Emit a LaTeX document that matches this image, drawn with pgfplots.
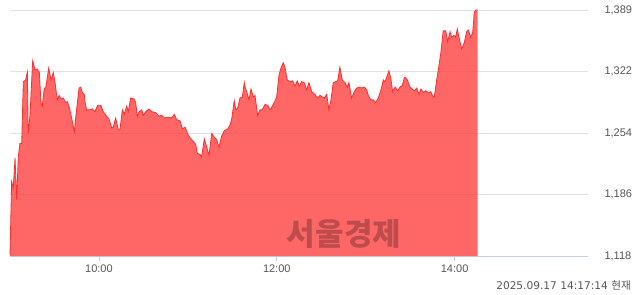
\documentclass[border=0pt]{standalone}
\usepackage{pgfplots}
\pgfplotsset{compat=1.18}
\usepackage{pgfplotstable}
\usepackage{fontspec}
\setmainfont{Liberation Sans}
\newfontfamily\kr{Noto Sans CJK KR}
\newfontfamily\dvs{DejaVu Sans}
\definecolor{areafill}{RGB}{255,60,60}
\definecolor{arealine}{RGB}{255,45,45}
\definecolor{gridc}{RGB}{226,226,226}
\definecolor{axc}{RGB}{196,208,230}
\definecolor{txt}{RGB}{85,85,85}
\pgfplotstableread{
m v
0 1119
1.1 1200
2.2 1193
3.4 1226
4.5 1180
5.6 1227
6.7 1242
7.9 1242
9.0 1310
10.6 1312
11.7 1321
12.3 1253
13.5 1273
15.3 1333
16.9 1323
18.4 1324
19.8 1320
20.9 1287
21.8 1283
23.1 1303
24.1 1303
26.1 1325
27.7 1312
29.2 1320
30.4 1309
31.9 1290
33.1 1295
34.4 1291
36.0 1292
37.6 1287
38.7 1288
40.0 1282
41.6 1270
43.4 1255
44.5 1273
46.6 1303
47.7 1304
48.8 1298
50.1 1296
50.6 1288
51.7 1279
54.0 1279
55.5 1280
57.3 1277
59.2 1284
61.2 1284
62.9 1277
65.2 1272
66.8 1269
68.6 1259
69.7 1260
71.3 1270
73.1 1257
74.2 1257
75.8 1279
77.1 1274
78.7 1283
79.8 1277
81.4 1292
83.7 1291
84.8 1287
85.9 1272
87.2 1277
88.9 1279
89.9 1273
91.6 1277
93.8 1280
95.6 1277
98.3 1276
100.5 1272
102.4 1273
104.1 1270
106.8 1271
109.1 1270
110.9 1274
112.5 1268
114.7 1267
116.3 1258
118.1 1260
120.3 1251
122.1 1247
123.7 1244
125.3 1241
126.4 1231
128.2 1230
129.3 1227
131.1 1247
132.7 1238
134.3 1229
136.1 1253
137.8 1249
139.5 1246
141.0 1238
142.8 1250
144.6 1256
146.9 1258
148.4 1262
149.6 1269
151.3 1289
152.3 1279
153.6 1281
155.2 1292
156.7 1293
158.1 1309
158.6 1304
159.7 1299
161.3 1290
162.6 1302
164.2 1293
165.3 1295
167.1 1273
168.7 1279
170.2 1279
172.1 1285
173.9 1284
175.4 1279
176.6 1282
178.3 1287
179.9 1293
181.5 1317
182.8 1325
184.4 1331
185.5 1326
187.1 1312
188.9 1310
190.7 1311
192.3 1305
193.8 1311
195.2 1305
196.8 1310
198.6 1309
200.2 1301
201.7 1309
203.6 1299
205.8 1296
207.6 1292
209.2 1295
210.7 1293
212.1 1292
212.5 1293
213.7 1296
215.2 1279
216.6 1290
218.1 1309
219.7 1310
221.1 1311
222.6 1326
224.2 1312
226.0 1309
227.6 1304
228.7 1309
230.5 1292
232.3 1299
233.9 1303
235.7 1304
237.3 1303
239.0 1304
240.7 1301
241.7 1295
243.4 1290
245.1 1290
246.7 1287
248.5 1292
250.3 1301
251.9 1312
253.0 1310
254.2 1315
255.7 1322
257.1 1312
258.2 1299
259.8 1304
261.6 1300
263.1 1304
264.7 1306
266.0 1314
266.5 1315
268.1 1312
269.9 1304
271.4 1302
272.8 1300
274.4 1303
276.0 1296
277.3 1302
278.9 1298
280.5 1300
282.2 1298
283.9 1299
284.9 1295
286.3 1293
287.9 1312
289.0 1323
290.8 1343
292.3 1366
294.0 1366
295.3 1354
296.9 1365
298.0 1359
299.6 1361
300.7 1359
301.8 1368
303.2 1357
304.8 1346
306.5 1353
308.1 1365
309.2 1367
310.8 1359
312.2 1364
313.3 1387
314.4 1389
315.5 1389
}\pricedata
\begin{document}
\begin{tikzpicture}[x=1bp,y=1bp]
\useasboundingbox (0,0) rectangle (640,294);
\begin{axis}[
  at={(10bp,38bp)}, anchor=south west,
  width=578bp, height=246bp, scale only axis,
  xmin=0, xmax=390, ymin=1118, ymax=1389,
  axis x line*=bottom, axis y line*=right,
  x axis line style={draw=axc, line width=0.8bp, -},
  y axis line style={draw=none},
  xtick={60,180,300}, xticklabels={10:00,12:00,14:00},
  ytick={1118,1185.75,1253.5,1321.25,1389},
  yticklabels={{1,118},{1,186},{1,254},{1,322},{1,389}},
  xtick align=outside, major tick length=5bp,
  xtick style={draw=axc, line width=0.8bp},
  ytick style={draw=none},
  ymajorgrids, grid style={draw=gridc, line width=0.8bp},
  tick label style={font=\fontsize{11bp}{13bp}\selectfont, text=txt},
  yticklabel style={anchor=west, xshift=13bp},
  clip=false,
]
\addplot[draw=none, fill=areafill, fill opacity=0.78] table[x=m,y=v]{\pricedata} \closedcycle;
\addplot[draw=arealine, line width=0.8bp, mark=none] table[x=m,y=v]{\pricedata};
\end{axis}
\node[font=\kr\bfseries\fontsize{31bp}{33bp}\selectfont, text=black, opacity=0.25] at (344,60) {서울경제};
\node[anchor=east, inner sep=0pt, font=\dvs\fontsize{10.6bp}{13bp}\selectfont, text=txt] at (631,8) {2025.09.17 14:17:14 {\kr 현재}};
\end{tikzpicture}
\end{document}
